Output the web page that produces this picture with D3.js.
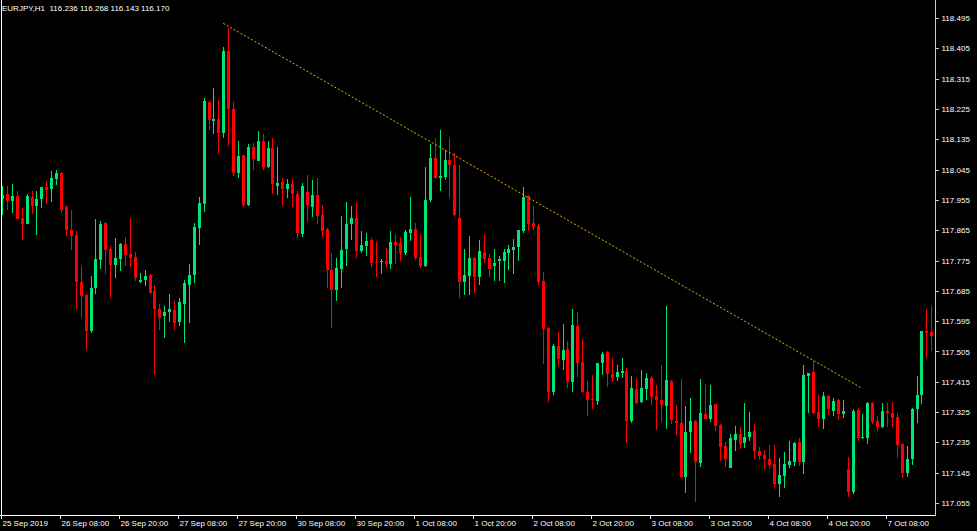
<!DOCTYPE html>
<html>
<head>
<meta charset="utf-8">
<script src="https://cdn.jsdelivr.net/npm/d3@7"></script>
<style>
  html, body { margin: 0; padding: 0; background: #000; overflow: hidden; }
  svg { display: block; }
  text { font-family: "Liberation Sans", Arial, sans-serif; white-space: pre; }
</style>
</head>
<body>
<svg id="chart" width="977" height="531"></svg>
<script>
// ---- DATA (EURJPY, H1) ----
const title = "EURJPY,H1  116.236 116.268 116.143 116.170";

const open = [
117.957,117.972,117.952,117.966,117.901,117.884,117.963,117.936,117.957,117.994,
117.987,118.016,118.035,117.935,117.865,117.851,117.711,117.672,117.565,117.693,
117.776,117.886,117.810,117.761,117.780,117.824,117.793,117.785,117.711,117.717,
117.732,117.683,117.631,117.610,117.621,117.628,117.592,117.647,117.702,117.731,
117.872,117.943,118.246,118.190,118.195,118.153,118.398,118.225,118.035,118.087,
117.940,118.111,118.071,118.130,118.053,118.109,117.997,118.007,117.988,118.002,
117.972,117.853,117.978,117.935,117.968,117.910,117.868,117.747,117.687,117.750,
117.809,117.883,117.901,117.804,117.819,117.836,117.771,117.771,117.773,117.765,
117.831,117.826,117.796,117.857,117.868,117.785,117.759,117.954,118.079,118.020,
118.023,118.073,118.058,117.901,117.712,117.729,117.782,117.726,117.801,117.782,
117.758,117.773,117.773,117.797,117.806,117.816,117.862,117.966,117.886,117.877,
117.714,117.574,117.385,117.522,117.479,117.512,117.414,117.580,117.473,117.384,
117.363,117.358,117.470,117.503,117.439,117.429,117.441,117.447,117.299,117.393,
117.355,117.393,117.426,117.372,117.360,117.343,117.418,117.299,117.292,117.133,
117.266,117.299,117.174,117.319,117.304,117.348,117.287,117.224,117.159,117.243,
117.259,117.234,117.251,117.268,117.210,117.198,117.186,117.171,117.112,117.134,
117.167,117.176,117.236,117.176,117.432,117.444,117.325,117.304,117.372,117.328,
117.360,117.319,117.156,117.087,117.331,117.248,117.248,117.352,117.298,117.280,
117.328,117.323,117.310,117.230,117.144,117.185,117.334,117.375,117.565,117.562
];
const high = [
117.996,117.996,118.002,117.980,117.930,117.972,117.982,117.982,117.994,118.011,
118.042,118.044,118.038,117.940,117.925,117.863,117.759,117.677,117.729,117.897,
117.892,117.889,117.818,117.842,117.827,117.845,117.901,117.801,117.739,117.747,
117.734,117.702,117.646,117.640,117.677,117.655,117.664,117.717,117.764,117.887,
117.964,118.257,118.249,118.288,118.252,118.408,118.466,118.245,118.130,118.088,
118.120,118.123,118.159,118.151,118.130,118.138,118.112,118.020,118.016,118.016,
117.982,118.004,118.029,118.014,118.019,117.940,117.871,117.796,117.783,117.907,
117.949,117.937,117.949,117.862,117.856,117.841,117.831,117.779,117.811,117.862,
117.853,117.845,117.865,117.963,117.886,117.854,118.053,118.121,118.138,118.162,
118.103,118.138,118.093,118.058,117.809,117.848,117.786,117.836,117.854,117.793,
117.809,117.788,117.809,117.821,117.839,117.867,117.993,117.969,117.937,117.883,
117.741,117.577,117.527,117.562,117.586,117.536,117.631,117.621,117.542,117.417,
117.435,117.472,117.503,117.505,117.485,117.465,117.485,117.456,117.432,117.426,
117.450,117.441,117.432,117.405,117.465,117.641,117.420,117.347,117.423,117.343,
117.366,117.301,117.423,117.408,117.405,117.349,117.290,117.236,117.260,117.283,
117.280,117.352,117.325,117.289,117.222,117.212,117.228,117.228,117.189,117.206,
117.239,117.237,117.248,117.465,117.442,117.476,117.375,117.384,117.375,117.366,
117.363,117.360,117.191,117.334,117.337,117.319,117.355,117.355,117.313,117.352,
117.352,117.355,117.322,117.232,117.224,117.337,117.432,117.567,117.631,117.640
];
const low = [
117.910,117.925,117.916,117.898,117.836,117.882,117.912,117.851,117.931,117.943,
117.950,117.999,117.917,117.848,117.806,117.628,117.605,117.509,117.560,117.677,
117.750,117.735,117.664,117.723,117.745,117.759,117.755,117.715,117.709,117.699,
117.677,117.435,117.568,117.545,117.592,117.570,117.580,117.531,117.588,117.708,
117.821,117.920,118.162,118.151,118.092,118.140,118.116,118.025,118.020,117.935,
117.938,118.044,118.069,118.044,118.051,117.972,117.968,117.937,117.961,117.935,
117.843,117.845,117.889,117.905,117.883,117.846,117.692,117.574,117.655,117.692,
117.759,117.836,117.783,117.796,117.788,117.756,117.727,117.735,117.752,117.750,
117.765,117.773,117.791,117.833,117.776,117.753,117.756,117.950,118.017,117.982,
118.014,117.960,117.908,117.664,117.672,117.672,117.679,117.702,117.768,117.727,
117.714,117.714,117.707,117.747,117.735,117.773,117.856,117.862,117.865,117.702,
117.467,117.355,117.375,117.462,117.450,117.395,117.385,117.430,117.383,117.313,
117.334,117.345,117.435,117.399,117.413,117.418,117.426,117.234,117.293,117.350,
117.353,117.361,117.346,117.271,117.295,117.274,117.289,117.257,117.130,117.085,
117.204,117.059,117.162,117.303,117.295,117.269,117.180,117.162,117.158,117.210,
117.215,117.219,117.240,117.186,117.182,117.153,117.156,117.103,117.073,117.100,
117.159,117.164,117.164,117.142,117.323,117.320,117.281,117.275,117.316,117.313,
117.301,117.307,117.072,117.081,117.239,117.245,117.230,117.289,117.268,117.279,
117.280,117.280,117.188,117.129,117.132,117.167,117.292,117.349,117.485,117.506
];
const close = [
117.969,117.952,117.967,117.898,117.884,117.967,117.936,117.957,117.992,117.984,
118.020,118.034,117.925,117.865,117.848,117.712,117.669,117.565,117.693,117.778,
117.883,117.807,117.761,117.782,117.824,117.791,117.783,117.722,117.717,117.729,
117.678,117.631,117.603,117.622,117.631,117.590,117.651,117.707,117.732,117.874,
117.945,118.249,118.192,118.196,118.153,118.398,118.225,118.035,118.085,117.940,
118.112,118.076,118.130,118.053,118.109,118.001,118.005,117.988,118.002,117.971,
117.857,117.996,117.940,117.968,117.907,117.863,117.747,117.687,117.753,117.806,
117.883,117.901,117.804,117.821,117.833,117.769,117.769,117.774,117.765,117.830,
117.821,117.798,117.859,117.868,117.783,117.759,117.954,118.079,118.021,118.026,
118.073,118.058,117.910,117.712,117.731,117.782,117.726,117.803,117.780,117.750,
117.769,117.779,117.800,117.809,117.815,117.865,117.963,117.883,117.874,117.711,
117.571,117.385,117.521,117.482,117.508,117.413,117.583,117.470,117.385,117.360,
117.360,117.470,117.498,117.438,117.426,117.444,117.447,117.299,117.395,117.352,
117.396,117.426,117.370,117.360,117.346,117.420,117.302,117.292,117.133,117.265,
117.299,117.177,117.322,117.304,117.346,117.284,117.222,117.186,117.248,117.260,
117.230,117.251,117.265,117.210,117.195,117.186,117.167,117.112,117.138,117.171,
117.179,117.234,117.176,117.435,117.441,117.322,117.304,117.372,117.334,117.357,
117.319,117.328,117.087,117.329,117.248,117.251,117.352,117.295,117.280,117.328,
117.322,117.308,117.227,117.144,117.185,117.334,117.375,117.565,117.559,117.551
];

const priceTicks = [118.495,118.405,118.315,118.225,118.135,118.045,117.955,117.865,117.775,
                    117.685,117.595,117.505,117.415,117.325,117.235,117.145,117.055];
const timeTickBars = [0,12,24,36,48,60,72,84,96,108,120,132,144,156,168,180];
const timeTickLabels = ["25 Sep 2019","26 Sep 08:00","26 Sep 20:00","27 Sep 08:00","27 Sep 20:00",
  "30 Sep 08:00","30 Sep 20:00","1 Oct 08:00","1 Oct 20:00","2 Oct 08:00","2 Oct 20:00",
  "3 Oct 08:00","3 Oct 20:00","4 Oct 08:00","4 Oct 20:00","7 Oct 08:00"];
// trend line: [bar index, price]
const trendStart = [45, 118.479];
const trendEnd = [175, 117.395];

// ---- DRAW ----
const svg = d3.select("#chart");
const W = 977, H = 531;
const plotRight = 935, plotBottom = 515;
const bull = "#00e676", bear = "#ff0000";

svg.append("rect").attr("width", W).attr("height", H).attr("fill", "#000");

const n = open.length;
const x = d3.scaleLinear().domain([0, n - 1]).range([2, 2 + (n - 1) * 4.917]);
const y = d3.scaleLinear().domain([117.055, 118.495]).range([503, 18]);

const bars = d3.range(n).map(i => ({ i, o: open[i], h: high[i], l: low[i], c: close[i] }));

const g = svg.append("g").attr("shape-rendering", "crispEdges");

// wicks
g.selectAll("rect.wick").data(bars).join("rect")
  .attr("class", "wick")
  .attr("x", d => Math.round(x(d.i)))
  .attr("y", d => Math.round(y(d.h)))
  .attr("width", 1)
  .attr("height", d => Math.max(1, Math.round(y(d.l)) - Math.round(y(d.h))))
  .attr("fill", d => d.c >= d.o ? bull : bear);

// bodies
g.selectAll("rect.body").data(bars).join("rect")
  .attr("class", "body")
  .attr("x", d => Math.round(x(d.i)) - 1)
  .attr("y", d => Math.round(y(Math.max(d.o, d.c))))
  .attr("width", 3)
  .attr("height", d => Math.max(1, Math.round(y(Math.min(d.o, d.c))) - Math.round(y(Math.max(d.o, d.c)))))
  .attr("fill", d => d.c >= d.o ? bull : bear);

// trend line
svg.append("line")
  .attr("x1", x(trendStart[0])).attr("y1", y(trendStart[1]))
  .attr("x2", x(trendEnd[0])).attr("y2", y(trendEnd[1]))
  .attr("stroke", "#e8b400").attr("stroke-width", 1)
  .attr("stroke-dasharray", "2,2");

// frame
const frame = svg.append("g").attr("shape-rendering", "crispEdges");
frame.append("line").attr("x1", 1.5).attr("x2", 1.5).attr("y1", 0).attr("y2", plotBottom).attr("stroke", "#ffffff");
frame.append("line").attr("x1", 0).attr("x2", plotRight + 0.5).attr("y1", plotBottom + 0.5).attr("y2", plotBottom + 0.5).attr("stroke", "#ffffff");
frame.append("line").attr("x1", plotRight + 0.5).attr("x2", plotRight + 0.5).attr("y1", 0).attr("y2", plotBottom + 0.5).attr("stroke", "#c8c8c8");

// right price axis
const yAxis = d3.axisRight(y).tickValues(priceTicks).tickFormat(d3.format(".3f")).tickSize(3).tickPadding(3);
const ya = svg.append("g").attr("transform", `translate(${plotRight + 0.5},0)`).call(yAxis);
ya.select(".domain").remove();
ya.selectAll(".tick line").attr("stroke", "#c8c8c8").attr("shape-rendering", "crispEdges");
ya.selectAll(".tick text").attr("fill", "#ffffff").attr("font-size", "8px")
  .attr("font-family", "'Liberation Sans', Arial, sans-serif");

// bottom time axis
const xt = svg.append("g").attr("transform", `translate(0,${plotBottom})`);
const tk = xt.selectAll("g.t").data(timeTickBars).join("g")
  .attr("class", "t")
  .attr("transform", d => `translate(${Math.round(x(d)) - 0.5},0)`);
tk.append("line").attr("y1", 0).attr("y2", 4).attr("stroke", "#ffffff").attr("shape-rendering", "crispEdges");
tk.append("text").attr("x", 1).attr("y", 11)
  .attr("fill", "#ffffff").attr("font-size", "8px")
  .text((d, k) => timeTickLabels[k]);

// title
svg.append("text").attr("x", 2).attr("y", 10.5)
  .attr("fill", "#ffffff").attr("font-size", "8px")
  .text(title);
</script>
</body>
</html>
